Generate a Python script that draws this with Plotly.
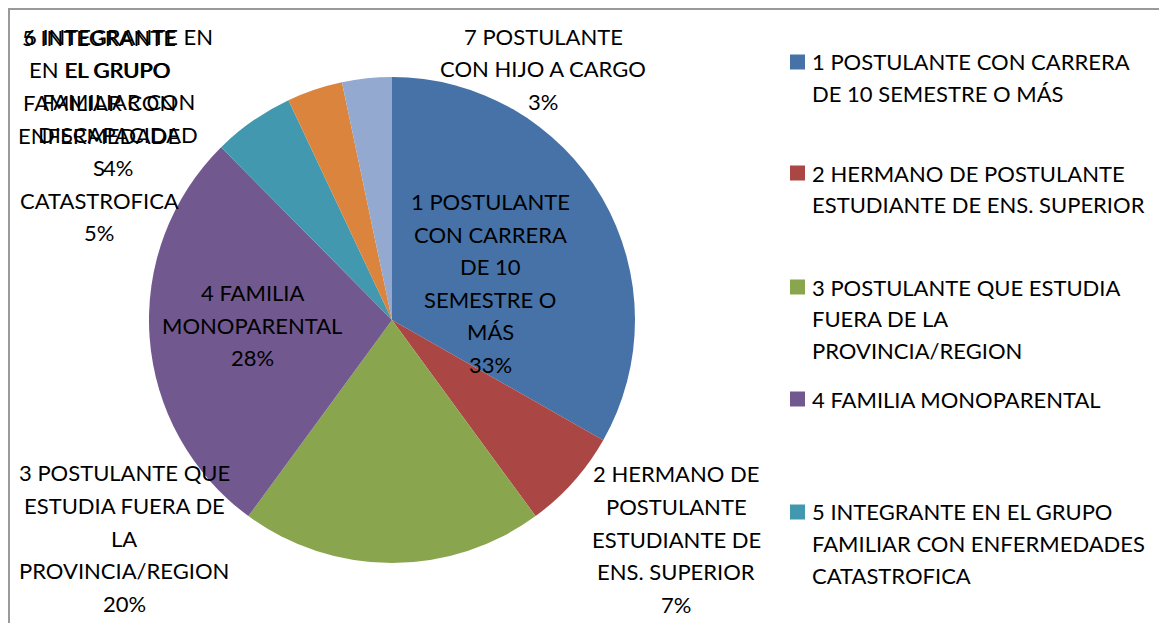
import plotly.graph_objects as go

# page is 1167x623; the browser body adds an 8px margin, so the figure
# starts at page (8, 8)
PAGE_W, PAGE_H = 1167, 623
OX, OY = 8, 8
W, H = PAGE_W - OX, PAGE_H - OY

# ---- data ----
categories = [
    "1 POSTULANTE CON CARRERA DE 10 SEMESTRE O MÁS",
    "2 HERMANO DE POSTULANTE ESTUDIANTE DE ENS. SUPERIOR",
    "3 POSTULANTE QUE ESTUDIA FUERA DE LA PROVINCIA/REGION",
    "4 FAMILIA MONOPARENTAL",
    "5 INTEGRANTE EN EL GRUPO FAMILIAR CON ENFERMEDADES CATASTROFICA",
    "6 INTEGRANTE EN EL GRUPO FAMILIAR CON DISCAPACIDAD",
    "7 POSTULANTE CON HIJO A CARGO",
]
values = [33.2, 6.7, 20.1, 27.5, 5.4, 3.7, 3.3]

# wrapped data-label text as shown on the chart
slice_label_lines = [
    ["1 POSTULANTE", "CON CARRERA", "DE 10", "SEMESTRE O", "MÁS"],
    ["2 HERMANO DE", "POSTULANTE", "ESTUDIANTE DE", "ENS. SUPERIOR"],
    ["3 POSTULANTE QUE", "ESTUDIA FUERA DE", "LA", "PROVINCIA/REGION"],
    ["4 FAMILIA", "MONOPARENTAL"],
    ["5 INTEGRANTE", "EN EL GRUPO", "FAMILIAR CON", "ENFERMEDADE", "S", "CATASTROFICA"],
    ["6 INTEGRANTE EN", "EL GRUPO", "FAMILIAR CON", "DISCAPACIDAD"],
    ["7 POSTULANTE", "CON HIJO A CARGO"],
]
# legend text (legend only shows the first five entries; rest cut off)
legend_lines = [
    ["1 POSTULANTE CON CARRERA", "DE 10 SEMESTRE O MÁS"],
    ["2 HERMANO DE POSTULANTE", "ESTUDIANTE DE ENS. SUPERIOR"],
    ["3 POSTULANTE QUE ESTUDIA", "FUERA DE LA", "PROVINCIA/REGION"],
    ["4 FAMILIA MONOPARENTAL"],
    ["5 INTEGRANTE EN EL GRUPO", "FAMILIAR CON ENFERMEDADES", "CATASTROFICA"],
]

colors = ["#4672A8", "#AA4643", "#89A54E", "#71588F", "#4198AF", "#DB843D", "#93A9CF"]

# ---- layout positions (page pixels) ----
label_pos = [(490, 283), (676, 539), (124, 538), (252, 325), (99, 135), (118, 102), (543, 69)]
LABEL_LS = 32.6
legend_first_line = [62, 173, 287, 399, 512]
LEGEND_LS = 31.8
FONT = "Lato"
FS = 22

def px(x):
    return (x - OX) / W

def py(y):
    return 1 - (y - OY) / H

total = sum(values)

fig = go.Figure(go.Pie(
    labels=categories,
    values=values,
    sort=False,
    direction="clockwise",
    rotation=0,
    marker=dict(colors=colors, line=dict(width=0)),
    textinfo="none",
    hoverinfo="label+percent",
    showlegend=False,
    domain=dict(x=[px(149), px(635)], y=[py(563), py(77)]),
))

annotations = []
font = dict(family=FONT, size=FS, color="#000000")
for lines, v, (x, yc) in zip(slice_label_lines, values, label_pos):
    pct = f"{round(v / total * 100):d}%"
    all_lines = lines + [pct]
    n = len(all_lines)
    for i, t in enumerate(all_lines):
        y = yc + (i - (n - 1) / 2) * LABEL_LS
        annotations.append(dict(
            x=px(x), y=py(y), xref="paper", yref="paper", text=t,
            showarrow=False, xanchor="center", yanchor="middle", font=font,
        ))

shapes = [dict(type="rect", xref="paper", yref="paper",
               x0=px(9), y0=-0.2, x1=1.2, y1=py(9),
               line=dict(color="#9a9a9a", width=2), fillcolor="rgba(0,0,0,0)")]

for i, (lines, y0) in enumerate(zip(legend_lines, legend_first_line)):
    for j, t in enumerate(lines):
        annotations.append(dict(
            x=px(810), y=py(y0 + j * LEGEND_LS), xref="paper", yref="paper", text=t,
            showarrow=False, xanchor="left", yanchor="middle", font=font,
        ))
    shapes.append(dict(type="rect", xref="paper", yref="paper",
                       x0=px(790), x1=px(805), y0=py(y0 + 7.5), y1=py(y0 - 7.5),
                       line=dict(width=0), fillcolor=colors[i]))

fig.update_layout(
    width=W, height=H,
    margin=dict(l=0, r=0, t=0, b=0),
    paper_bgcolor="white", plot_bgcolor="white",
    annotations=annotations, shapes=shapes,
)

fig.write_html("out.html")
